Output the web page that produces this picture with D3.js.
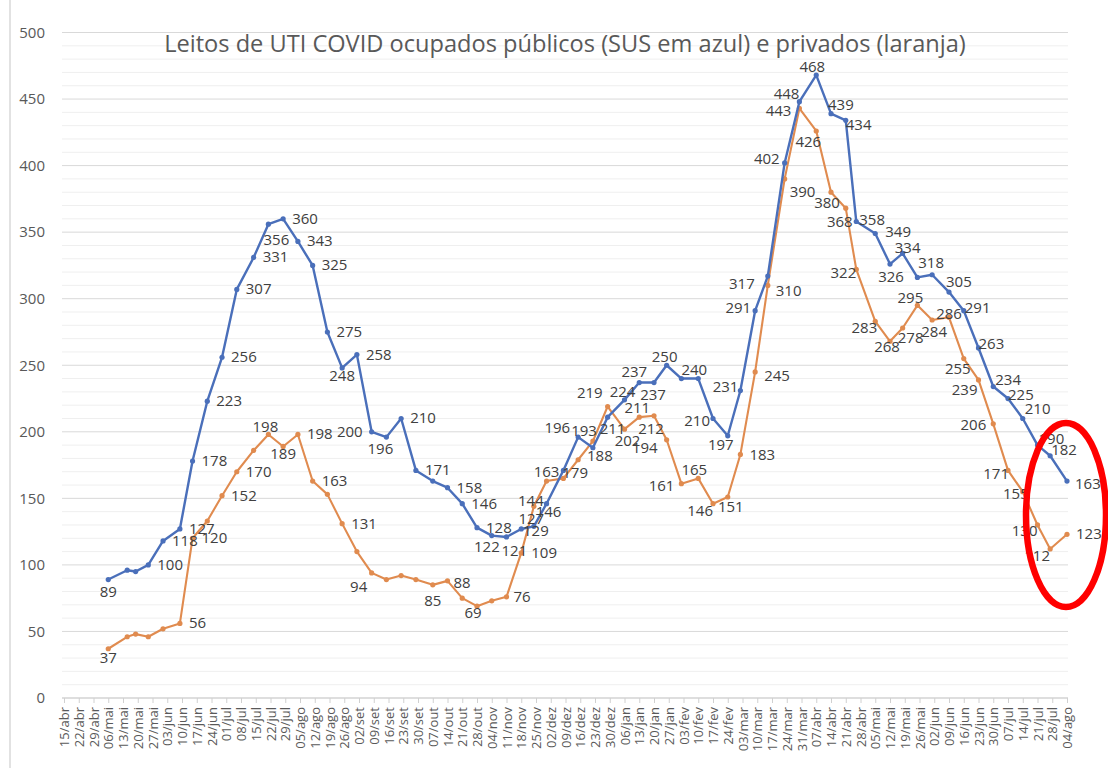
<!DOCTYPE html>
<html>
<head>
<meta charset="utf-8">
<script src="https://cdn.jsdelivr.net/npm/d3@7"></script>
<style>
  body { margin: 0; background: #fff; }
  svg { display: block; font-family: "Open Sans", sans-serif; }
</style>
</head>
<body>
<script>
// weekly axis labels (15/abr/2020 .. 04/ago/2021)
var tickLabels = ["15/abr","22/abr","29/abr","06/mai","13/mai","20/mai","27/mai","03/jun","10/jun","17/jun",
  "24/jun","01/jul","08/jul","15/jul","22/jul","29/jul","05/ago","12/ago","19/ago","26/ago","02/set","09/set",
  "16/set","23/set","30/set","07/out","14/out","21/out","28/out","04/nov","11/nov","18/nov","25/nov","02/dez",
  "09/dez","16/dez","23/dez","30/dez","06/jan","13/jan","20/jan","27/jan","03/fev","10/fev","17/fev","24/fev",
  "03/mar","10/mar","17/mar","24/mar","31/mar","07/abr","14/abr","21/abr","28/abr","05/mai","12/mai","19/mai",
  "26/mai","02/jun","09/jun","16/jun","23/jun","30/jun","07/jul","14/jul","21/jul","28/jul","04/ago"];

var dates = ["2020-05-06","2020-05-15","2020-05-19","2020-05-25","2020-06-01","2020-06-09","2020-06-15",
  "2020-06-22","2020-06-29","2020-07-06","2020-07-14","2020-07-21","2020-07-28","2020-08-04","2020-08-11",
  "2020-08-18","2020-08-25","2020-09-01","2020-09-08","2020-09-15","2020-09-22","2020-09-29","2020-10-07",
  "2020-10-14","2020-10-21","2020-10-28","2020-11-04","2020-11-11","2020-11-18","2020-11-24","2020-11-30",
  "2020-12-08","2020-12-15","2020-12-22","2020-12-29","2021-01-06","2021-01-13","2021-01-20","2021-01-26",
  "2021-02-02","2021-02-10","2021-02-17","2021-02-24","2021-03-02","2021-03-09","2021-03-15","2021-03-23",
  "2021-03-30","2021-04-07","2021-04-14","2021-04-21","2021-04-26","2021-05-05","2021-05-12","2021-05-18",
  "2021-05-25","2021-06-01","2021-06-09","2021-06-16","2021-06-23","2021-06-30","2021-07-07","2021-07-14",
  "2021-07-21","2021-07-27","2021-08-04"];

// SUS (azul)
var sus = [89,96,95,100,118,127,178,223,256,307,331,356,360,343,325,275,248,258,200,196,
  210,171,163,158,146,128,122,121,127,129,146,171,196,188,211,224,237,237,250,240,
  240,210,197,231,291,317,402,448,468,439,434,358,349,326,334,316,318,305,291,263,
  234,225,210,190,182,163];

// privados (laranja)
var privados = [37,46,48,46,52,56,120,133,152,170,186,198,189,198,163,153,131,110,94,89,
  92,89,85,88,75,69,73,76,109,144,163,165,179,193,219,202,211,212,194,161,
  165,146,151,183,245,310,390,443,426,380,368,322,283,268,278,295,284,286,255,239,
  206,171,155,130,112,123];

// label placement per point: "r" = right of the point, [anchor, dx, dy] otherwise, "" = no label
var susPos = [["middle",0,17],"","","r","r","r","r","r","r","r",
  "r",["middle",8,21],"r","r","r","r",["middle",0,13],"r","l",["middle",-6,17],
  "r","r","","r","r","r",["end",8,16],["start",-5,19],["middle",10,-5],["middle",2,10],
  ["middle",2,13],"",["end",-8,-4],["middle",7,13],["start",-8,17],["middle",-2,-3],["middle",-5,-6],["middle",-1,17],["middle",-2,-3],["start",0,-4],
  "",["end",-3,8],["middle",-7,14],["end",-2,1],["end",-4,2],["end",-13,13],["end",-5,1],["end",0,-3],["middle",-4,-3],["start",-3,-4],
  ["start",0,10],["start",3,3],["start",10,4],["middle",1,18],["middle",5,0],"",["middle",-1,-7],["start",-3,-5],["start",1,2],["start",0,1],
  ["start",2,-2],["start",0,1],["start",2,-4],["start",1,-1],["start",1,-1],["start",8,8]];

var privPos = [["middle",0,14],"","","","","r","r","","r","r",
  "",["middle",-3,-2],["middle",0,13],"r","r","","r","",["middle",-13,19],"",
  "","",["middle",0,21],["start",6,7],"",["middle",-4,12],"",["start",7,5],["start",10,5],["middle",-3,0],
  ["middle",0,-4],"",["middle",-3,18],["end",4,-5],["end",-5,-9],["middle",3,17],["middle",-2,-4],["middle",-3,18],["end",-9,13],["end",-7,7],
  ["middle",-4,-3],["end",0,12],["middle",3,15],["start",9,6],["start",9,9],["start",8,11],["start",5,18],["end",-8,8],["middle",-8,16],["middle",-4,16],
  ["middle",-6,19],["end",0,9],["end",2,12],["middle",-3,11],["middle",8,15],["middle",-7,-2],["middle",2,17],["middle",0,2],["middle",-6,15],["end",-1,15],
  ["end",-7,6],["end",1,9],["end",6,7],["end",0,11],["middle",-13,12],"r"];

var w = 1108, h = 771;

var svg = d3.select("body").append("svg")
    .attr("width", w)
    .attr("height", h);

var parse = d3.utcParse("%Y-%m-%d");
var start = parse("2020-04-15"),
    end = parse("2021-08-04");

var x = d3.scaleUtc()
    .domain([start, end])
    .range([64, 1067]);

var y = d3.scaleLinear()
    .domain([0, 500])
    .range([698, 32.5]);

var tickDates = tickLabels.map(function(d, i) { return d3.utcDay.offset(start, 7 * i); });

// chart frame line at left
svg.append("line")
    .attr("x1", 10).attr("x2", 10)
    .attr("y1", 0).attr("y2", 768)
    .attr("stroke", "#d9d9d9")
    .attr("stroke-width", 1.5);

// minor + major gridlines
var gridG = svg.append("g").attr("class", "grid");
gridG.selectAll("line.minor")
    .data(d3.range(0, 501, 10).filter(function(v) { return v % 50 != 0; }))
    .enter().append("line")
    .attr("class", "minor")
    .attr("x1", 62).attr("x2", 1068)
    .attr("y1", function(d) { return y(d); })
    .attr("y2", function(d) { return y(d); })
    .attr("stroke", "#efefef");
gridG.selectAll("line.major")
    .data(y.ticks(10))
    .enter().append("line")
    .attr("class", "major")
    .attr("x1", 62).attr("x2", 1068)
    .attr("y1", function(d) { return y(d); })
    .attr("y2", function(d) { return y(d); })
    .attr("stroke", "#d9d9d9");

// y axis labels
svg.append("g")
    .attr("class", "axis axis--y")
    .attr("transform", "translate(62,0)")
    .call(d3.axisLeft(y).tickValues(y.ticks(10)).tickSize(0).tickPadding(17))
    .call(function(g) {
        g.select(".domain").remove();
        g.selectAll("text")
            .attr("font-family", "Open Sans")
            .attr("font-size", 15)
            .attr("fill", "#595959");
    });

// x axis
var xAxis = svg.append("g")
    .attr("class", "axis axis--x")
    .attr("transform", "translate(0," + y(0) + ")")
    .call(d3.axisBottom(x)
        .tickValues(tickDates)
        .tickSize(5)
        .tickFormat(function(d, i) { return tickLabels[i]; }));
xAxis.select(".domain")
    .attr("d", "M62,0H1068")
    .attr("stroke", "#d0d0d0");
xAxis.selectAll(".tick line").attr("stroke", "#d0d0d0");
xAxis.selectAll(".tick text")
    .attr("font-family", "Open Sans")
    .attr("font-size", 13)
    .attr("fill", "#595959")
    .attr("text-anchor", "end")
    .attr("transform", "rotate(-90)")
    .attr("x", -9)
    .attr("y", 0)
    .attr("dy", "0.35em");

// title
svg.append("text")
    .attr("x", 565)
    .attr("y", 52)
    .attr("text-anchor", "middle")
    .attr("font-size", 23.6)
    .attr("fill", "#595959")
    .text("Leitos de UTI COVID ocupados públicos (SUS em azul) e privados (laranja)");

var series = [
    { name: "sus", values: sus, pos: susPos, color: "#4a6fba", width: 2.4 },
    { name: "privados", values: privados, pos: privPos, color: "#e08b4f", width: 2.1 }
];

var line = d3.line()
    .x(function(d) { return x(d.date); })
    .y(function(d) { return y(d.v); });

series.forEach(function(s) {
    s.points = s.values.map(function(v, i) {
        return { date: parse(dates[i]), v: v, pos: s.pos[i] };
    });
});

// orange below blue like the original
[series[1], series[0]].forEach(function(s) {
    var g = svg.append("g").attr("class", "series " + s.name);
    g.append("path")
        .attr("d", line(s.points))
        .attr("fill", "none")
        .attr("stroke", s.color)
        .attr("stroke-width", s.width)
        .attr("stroke-linejoin", "round");
    g.selectAll("circle")
        .data(s.points)
        .enter().append("circle")
        .attr("cx", function(d) { return x(d.date); })
        .attr("cy", function(d) { return y(d.v); })
        .attr("r", 2.6)
        .attr("fill", s.color);
});

// data labels
var offs = {
    r: { anchor: "start", dx: 9, dy: 5 },
    l: { anchor: "end", dx: -9, dy: 5 }
};
function place(p) {
    return typeof p === "string" ? offs[p] : { anchor: p[0], dx: p[1], dy: p[2] };
}

series.forEach(function(s) {
    svg.append("g")
        .attr("class", "labels " + s.name)
        .selectAll("text")
        .data(s.points.filter(function(d) { return d.pos; }))
        .enter().append("text")
        .attr("x", function(d) { return x(d.date) + place(d.pos).dx; })
        .attr("y", function(d) { return y(d.v) + place(d.pos).dy; })
        .attr("text-anchor", function(d) { return place(d.pos).anchor; })
        .attr("font-size", 15)
        .attr("fill", "#404040")
        .text(function(d) { return d.v; });
});

// red highlight ellipse
svg.append("ellipse")
    .attr("cx", 1066)
    .attr("cy", 515)
    .attr("rx", 40)
    .attr("ry", 92)
    .attr("fill", "none")
    .attr("stroke", "#ff0000")
    .attr("stroke-width", 6.5);
</script>
</body>
</html>
